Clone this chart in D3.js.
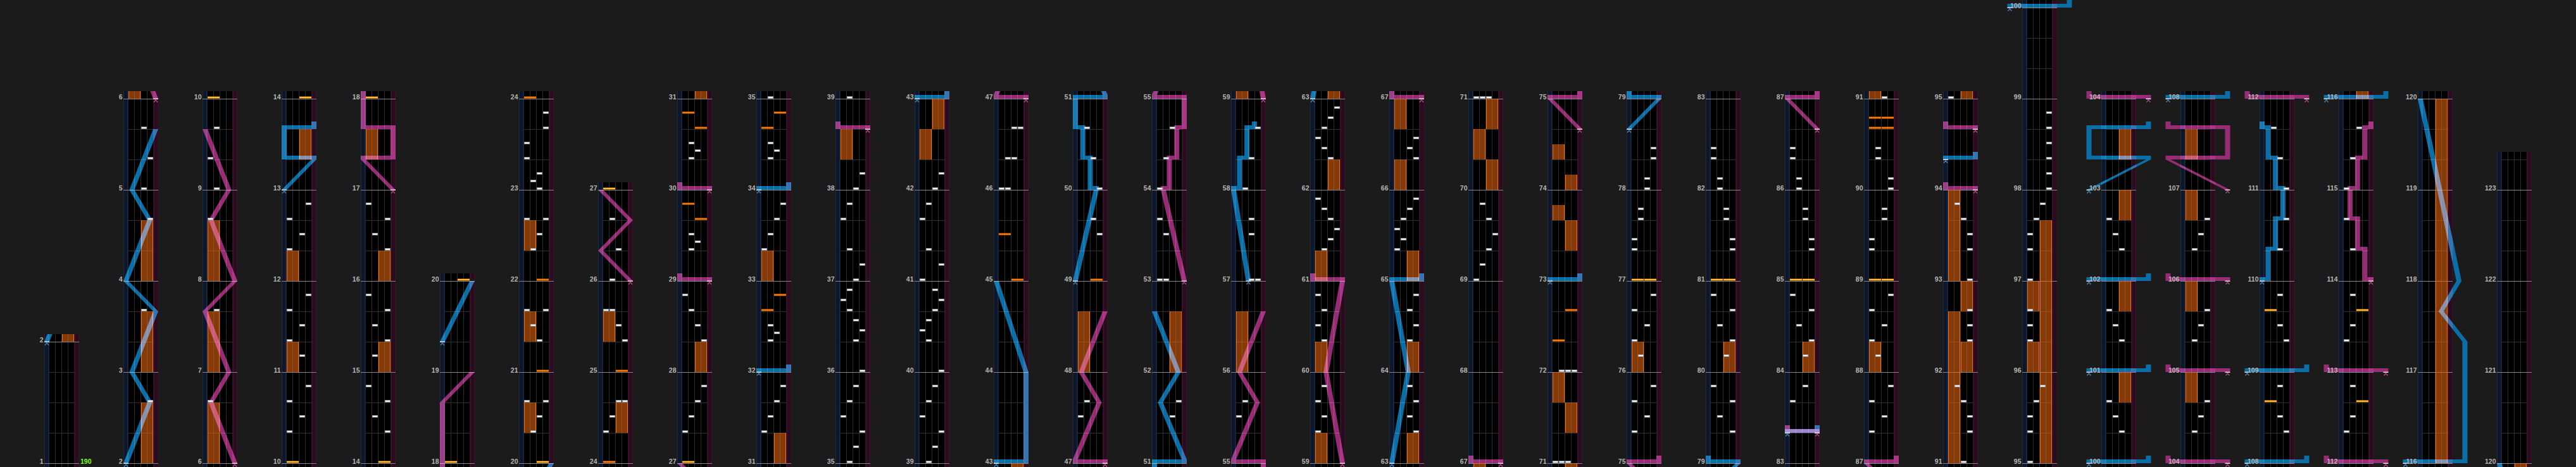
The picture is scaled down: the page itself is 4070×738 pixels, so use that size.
<!DOCTYPE html>
<html><head><meta charset="utf-8">
<script src="https://cdn.jsdelivr.net/npm/d3@7"></script>
<style>
html,body{margin:0;padding:0;background:#1b1b1b;overflow:hidden;}
svg{display:block;}
</style></head><body>
<svg id="chart" width="4070" height="738"></svg>
<script>
// ---------------- DATA ----------------
const columnStarts = [1,2,6,10,14,18,20,24,27,31,35,39,43,47,51,55,59,63,67,71,75,79,83,87,91,95,100,104,108,112,116,120];
const songEnd = [123, 1];
const bpmMarks = [[1, 0, "190"]];

// [measure, beat, lane 0..3]
const btChips = [
 [2,2,3],[3,2,2],[4,2,3],[5,0,2],[5,1,3],[5,2,2],
 [6,2,0],[7,2,1],[8,2,0],[9,0,1],[9,1,0],[9,2,1],
 [10,1,0],[10,1.5,2],[10,2,0],[10,2.5,3],
 [11,0.5,2],[11,1,0],[11,1.5,2],[11,2,0],[11,2.5,3],
 [12,1,0],[12,1.5,2],[12,2,0],[12,2.5,3],
 [14,1,3],[14,1.5,1],[14,2,3],[14,2.5,0],
 [15,0.5,1],[15,1,3],[15,1.5,1],[15,2,3],[15,2.5,0],
 [16,1,3],[16,1.5,1],[16,2,3],[16,2.5,0],
 [20,1,1],[20,1.5,2],[20,2,0],[20,2,3],
 [21,1,2],[21,1.5,1],[21,2,0],[21,2,3],
 [22,1,1],[22,1.5,2],[22,2,0],[22,2,3],
 [23,0,2],[23,0.25,1],[23,0.5,2],[23,1,0],[23,1.5,0],[23,2,3],[23,2.5,3],
 [24,1,0],[24,1.5,1],[24,2,2],[24,2,3],
 [25,1,3],[25,1.5,2],[25,2,0],[25,2,1],
 [26,0,1],[26,1,2],[26,2,1],
 [27,1,0],[27,1.5,1],[27,2,2],[27,2.5,3],
 [28,1,3],[28,1.5,2],[28,2,1],[28,2.5,0],
 [29,1,1],[29,1.25,2],[29,1.5,1],
 [30,1,1],[30,1.25,2],[30,1.5,1],
 [31,1,0],[31,1.5,1],[31,2,2],[31,2.5,3],
 [32,1,1],[32,1.25,2],[32,1.5,1],
 [33,1,0],[33,1.5,1],[33,2,2],[33,2.5,3],
 [34,1,1],[34,1.25,2],[34,1.5,1],
 [35,0,1],[35,0.5,2],[35,1,3],[35,1.5,0],[35,2,1],[35,2.5,2],
 [36,0,3],[36,1,2],[36,1.333,3],[36,1.667,2],[36,2,1],[36,2.333,0],[36,2.667,1],
 [37,0,2],[37,0.5,3],[37,1,1],[37,2,0],[37,2.5,1],
 [38,0,2],[38,0.5,3],
 [39,0,1],[39,0.5,2],[39,1,3],[39,1.5,0],[39,2,1],[39,2.5,2],
 [40,0,3],[40,1,1],[40,1.333,0],[40,1.667,1],[40,2,2],[40,2.333,3],[40,2.667,2],
 [41,0,0],[41,0.5,3],[41,1,1],[41,2,0],[41,2.5,1],
 [42,0,2],[42,0.5,3],
 [46,0,0],[46,0,1],[46,1,1],[46,1,2],[46,2,2],[46,2,3],
 [47,1.5,0],[47,2,1],[49,1.5,3],[49,2,2],[50,0,3],[50,1,2],[50,2,1],
 [51,1.5,2],[51,2,3],[53,0,0],[53,0,1],[53,1.5,1],[53,2,0],[54,0,0],[54,1,1],[54,2,2],
 [55,1.5,0],[55,2,1],[57,0,2],[57,0,3],[57,1.5,2],[57,2,2],[58,0,1],[58,1,2],[58,2,3],
 [59,1,0],[59,1.5,1],[59,2,0],[59,2.5,1],
 [60,1,1],[60,1.5,0],[60,2,1],[60,2.5,0],
 [61,1,1],[61,1.333,2],[61,1.667,3],[61,2,2],[61,2.333,1],[61,2.667,0],
 [62,1,2],[62,1.333,1],[62,1.667,0],[62,2,1],[62,2.333,2],[62,2.667,3],
 [63,1,3],[63,1.5,2],[63,2,3],[63,2.5,2],
 [64,1,2],[64,1.5,3],[64,2,2],[64,2.5,3],
 [65,1,0],[65,1.333,1],[65,1.667,0],[65,2,1],[65,2.333,2],[65,2.667,3],
 [66,1,3],[66,1.333,2],[66,1.667,3],
 [69,0,0],[69,0.5,1],[69,1,2],[69,1.5,3],[69,2,2],[69,2.5,1],
 [71,0,0],[71,0,1],[71,0,2],
 [72,0,1],[72,0,2],[72,0,3],
 [75,1,0],[75,1.5,2],[75,2,0],[75,2.5,3],
 [76,0.5,1],[76,1,0],[76,1.5,2],[76,2,0],[76,2.5,3],
 [77,1,0],[77,1.333,0],[77,2,1],[77,2.333,1],
 [78,0,2],[78,0.333,2],[78,1,3],[78,1.333,3],
 [79,1,3],[79,1.5,1],[79,2,3],[79,2.5,0],
 [80,0.5,2],[80,1,3],[80,1.5,1],[80,2,3],[80,2.5,0],
 [81,1,3],[81,1.333,3],[81,2,2],[81,2.333,2],
 [82,0,1],[82,0.333,1],[82,1,0],[82,1.333,0],
 [83,2,0],[83,2.5,2],
 [84,0.5,2],[84,1,3],[84,1.5,1],[84,2,3],[84,2.5,0],
 [85,1,3],[85,1.333,3],[85,2,2],[85,2.333,2],
 [86,0,1],[86,0.333,1],[86,1,0],[86,1.333,0],
 [87,1,0],[87,1.5,2],[87,2,0],[87,2.5,3],
 [88,0.5,1],[88,1,0],[88,1.5,2],[88,2,0],[88,2.5,3],
 [89,1,0],[89,1.333,0],[89,2,2],[89,2.333,2],
 [90,0,3],[90,0.333,3],[90,1,1],[90,1.333,1],
 [91,0,2],[91,1,3],[91,1.5,3],[91,2,2],[91,2.5,1],
 [92,1,3],[92,1.5,3],[92,2,3],
 [93,0,3],[93,1,3],[93,1.5,3],[93,2,2],[93,2.5,1],
 [95,0,0],[95,1,0],[95,1.5,0],[95,2,1],[95,2.5,2],
 [96,1,0],[96,1.5,0],[96,2,0],
 [97,0,0],[97,1,0],[97,1.5,0],[97,2,1],[97,2.5,2],
 [98,0,3],[98,0.5,3],[98,1,3],[98,1.5,3],[98,2,3],[98,2.5,3],
 [100,1,2],[100,1.5,1],[100,2,0],[101,1,2],[101,1.5,1],[101,2,0],[102,1,2],[102,1.5,1],[102,2,0],
 [104,1,1],[104,1.5,2],[104,2,3],[105,1,1],[105,1.5,2],[105,2,3],[106,1,1],[106,1.5,2],[106,2,3],
 [108,1,3],[108,1.5,2],[108,2.5,2],[109,1,3],[109,1.5,2],[109,2.5,2],
 [110,1,2],[110,2,3],[111,0,3],[111,1,2],[111,2,1],
 [112,1,0],[112,1.5,1],[112,2.5,1],[113,1,0],[113,1.5,1],[113,2.5,1],
 [114,1,1],[114,2,0],[115,0,0],[115,1,1],[115,2,2]
];

// [measure, beat, side 0=L 1=R, kind 0=yellow 1=orange]
const fxChips = [
 [10,0,0,0],[14,0,1,0],[18,0,0,0],[20,0,1,0],[21,0,1,1],[22,0,1,1],[24,0,0,1],[25,0,1,1],[27,0,0,0],
 [29,2,1,1],[29,2.5,0,1],[30,2,1,1],[30,2.5,0,1],
 [32,2,0,1],[32,2.5,1,1],[34,2,0,1],[34,2.5,1,1],
 [45,0,1,1],[45,1.5,0,1],[49,0,1,1],[72,1,0,1],[72,2,1,1],
 [77,0,0,0],[77,0,1,0],[81,0,0,0],[81,0,1,0],[85,0,0,0],[85,0,1,0],[89,0,0,0],[89,0,1,0],
 [90,2,0,1],[90,2,1,1],[90,2.333,0,1],[90,2.333,1,1],
 [108,2,0,0],[109,2,0,0],[112,2,1,0],[113,2,1,0]
];

// [startMeasure, startBeat, endMeasure, endBeat, side]
const fxLongs = [
 [2,0,2,2,1],[3,0,3,2,1],[4,0,4,2,1],
 [6,0,6,2,0],[7,0,7,2,0],[8,0,8,2,0],
 [11,0,11,1,0],[12,0,12,1,0],[13,1,13,2,1],
 [15,0,15,1,1],[16,0,16,1,1],[17,1,17,2,0],
 [20,1,20,2,0],[21,1,21,2,0],[22,1,22,2,0],
 [24,1,24,2,1],[25,1,25,2,0],
 [28,0,28,1,1],[31,0,31,1,1],[33,0,33,1,0],
 [38,1,38,2,0],[42,1,42,2,0],[42,2,43,0,1],
 [48,0,48,2,0],[52,0,52,2,1],[56,0,56,2,0],
 [59,0,59,1,0],[60,0,60,1,0],[61,0,61,1,0],[62,0,62,1,1],
 [63,0,63,1,1],[64,0,64,1,1],[65,0,65,1,1],[66,0,66,1,0],[66,2,67,0,0],
 [70,0,70,1,1],[70,1,70,2,0],[70,2,71,0,1],
 [71,1,71,2,1],[71,2,72,0,0],
 [73,1,73,2,1],[73,2,73,2.5,0],[74,0,74,0.5,1],[74,1,74,1.5,0],
 [76,0,76,1,0],[80,0,80,1,1],[84,0,84,1,1],[88,0,88,1,0],
 [91,0,92,2,0],[92,0,92,1,1],[92,2,93,0,1],[93,0,94,0,0],
 [95,0,97,2,1],[96,0,96,1,0],[96,2,97,0,0],
 [100,2,101,0,1],[101,2,102,0,1],[102,2,103,0,1],[103,1,103,2,1],
 [104,2,105,0,0],[105,2,106,0,0],[106,2,107,0,0],[107,1,107,2,0],
 [116,0,120,0,1]
];

// laser sections: [measure, beat, position] (same beat twice = slam)
const leftLaser = [
 [[2,0,0],[2,2,0.8],[3,0,0.2],[3,2,1],[4,0,0],[4,2,0.8],[5,0,0.2],[5,2,1]],
 [[13,0,0],[13,1,1],[13,1,0],[13,2,0],[13,2,1]],
 [[19,1,0],[20,0,1]],
 [[32,0,0],[32,0,1]],
 [[34,0,0],[34,0,1]],
 [[43,0,0],[43,0,1],[44,0,1],[45,0,0]],
 [[49,0,0],[50,0,0.7],[50,0,0.5],[50,1,0.5],[50,1,0.25],[50,2,0.25],[50,2,0],[51,0,0],[51,0,1],[51,2,0.2],[52,0,0.8],[52,2,0]],
 [[57,0,0.5],[58,0,0],[58,0,0.2],[58,1,0.2],[58,1,0.45],[58,2,0.45],[58,2,0.7]],
 [[63,0,0],[64,0,0.55],[65,0,0],[65,0,1]],
 [[73,0,0],[73,0,1]],
 [[78,2,0],[79,0,1],[79,0,0]],
 [[83,1,0],[83,1,1]],
 [[94,1,0],[94,1,1]],
 [[100,0,-0.5],[100,0,1.5]],
 [[101,0,-0.5],[101,0,1.5]],
 [[102,0,-0.5],[102,0,1.5]],
 [[103,0,-0.5],[103,1,1.5],[103,1,-0.5],[103,2,-0.5],[103,2,1.5]],
 [[108,0,-0.5],[108,0,1.5]],
 [[109,0,-0.5],[109,0,1.5]],
 [[110,0,0],[110,0,0.2],[110,1,0.2],[110,1,0.45],[110,2,0.45],[110,2,0.7],[111,0,0.7],[111,0,0.45],[111,1,0.45],[111,1,0.2],[111,2,0.2],[111,2,0]],
 [[116,0,-0.5],[116,0,1.5],[117,1,1.5],[117,2,0.7],[118,0,1.3],[120,0,0]]
];
const rightLaser = [
 [[6,0,1],[6,2,0.2],[7,0,0.8],[7,2,0],[8,0,1],[8,2,0.2],[9,0,0.8],[9,2,0]],
 [[17,0,1],[17,1,0],[17,1,1],[17,2,1],[17,2,0],[18,2,0],[19,0,1]],
 [[26,0,1],[26,1,0],[26,2,1],[27,0,0]],
 [[29,0,1],[29,0,0]],
 [[30,0,1],[30,0,0]],
 [[38,2,1],[38,2,0]],
 [[47,0,1],[47,0,0],[47,2,0.8],[48,0,0.2],[48,2,1]],
 [[53,0,1],[54,0,0.3],[54,0,0.5],[54,1,0.5],[54,1,0.75],[54,2,0.75],[54,2,1],[55,0,1],[55,0,0],[55,2,0.8],[56,0,0.2],[56,2,1]],
 [[59,0,1],[60,0,0.45],[61,0,1],[61,0,0]],
 [[67,0,1],[67,0,0]],
 [[74,2,1],[75,0,0],[75,0,1]],
 [[83,1,1],[83,1,0]],
 [[86,2,1],[87,0,0],[87,0,1]],
 [[94,0,1],[94,0,0]],
 [[94,2,1],[94,2,0]],
 [[104,0,1.5],[104,0,-0.5]],
 [[105,0,1.5],[105,0,-0.5]],
 [[106,0,1.5],[106,0,-0.5]],
 [[107,0,1.5],[107,1,-0.5],[107,1,1.5],[107,2,1.5],[107,2,-0.5]],
 [[112,0,1.5],[112,0,-0.5]],
 [[113,0,1.5],[113,0,-0.5]],
 [[114,0,1],[114,0,0.8],[114,1,0.8],[114,1,0.55],[114,2,0.55],[114,2,0.3],[115,0,0.3],[115,0,0.55],[115,1,0.55],[115,1,0.8],[115,2,0.8],[115,2,1]]
];

// ---------------- RENDER ----------------
const svg = d3.select('#chart');
svg.append('rect').attr('width',4070).attr('height',738).attr('fill','#1b1b1b');
const defs = svg.append('defs');
const grad = defs.append('linearGradient').attr('id','fxY').attr('x1',0).attr('y1',0).attr('x2',0).attr('y2',1);
grad.append('stop').attr('offset','0%').attr('stop-color','#ff9000');
grad.append('stop').attr('offset','50%').attr('stop-color','#ffe24a');
grad.append('stop').attr('offset','100%').attr('stop-color','#ff8400');

const beatOf = (m,b) => (m<=1 ? 0 : 4 + 3*(m-2)) + b;
const measureLen = m => m===1 ? 4 : 3;
const BEAT_PX = 48, BASE_Y = 732, H = 738;
const colX = d3.scaleLinear().domain([0,1]).range([70,195]);
const laneX = d3.scaleLinear().domain([0,4]).range([7.5,47.5]);
const laserX = d3.scaleLinear().domain([0,1]).range([4,51]);
const endBeat = beatOf(songEnd[0], songEnd[1]);
const lastMeasure = songEnd[0];

const BLUE = '#0c6ea6', PINK = '#962c74';

function drawLaser(layer, sections, y, lo, hi) {
  sections.forEach(sec => {
    const pts = sec.map(p => ({b: beatOf(p[0],p[1]), v: p[2]}));
    if (pts[pts.length-1].b < lo || pts[0].b > hi) return;
    let afterSlam = false;
    for (let k=0; k<pts.length-1; k++) {
      const a = pts[k], c = pts[k+1];
      const xa = laserX(a.v), xc = laserX(c.v);
      if (a.b === c.b) {
        layer.append('rect').attr('x', Math.min(xa,xc)-4).attr('y', y(a.b)-6)
          .attr('width', Math.abs(xc-xa)+8).attr('height', 6);
        afterSlam = true;
      } else {
        const ya = y(a.b) - (afterSlam ? 6 : 0), yc = y(c.b);
        layer.append('path').attr('d', `M${xa-4},${ya}L${xa+4},${ya}L${xc+4},${yc}L${xc-4},${yc}Z`);
        afterSlam = false;
      }
    }
    if (afterSlam) {
      const l = pts[pts.length-1], xl = laserX(l.v);
      layer.append('rect').attr('x', xl-4).attr('y', y(l.b)-12).attr('width', 8).attr('height', 6);
    }
  });
}
function drawStarts(layer, sections, y, lo, hi, col) {
  sections.forEach(sec => {
    const b = beatOf(sec[0][0], sec[0][1]);
    if (b < lo || b > hi) return;
    const x = laserX(sec[0][2]), yy = y(b);
    layer.append('rect').attr('x', x-4).attr('y', yy-0.5).attr('width', 8).attr('height', 1.5).attr('fill', '#e6e6e6');
    layer.append('path').attr('d', `M${x-3},${yy+5.5}L${x},${yy+2}L${x+3},${yy+5.5}`)
      .attr('fill','none').attr('stroke', col).attr('stroke-width', 1.2);
  });
}

columnStarts.forEach((m0, i) => {
  const x0 = colX(i);
  const isLast = i === columnStarts.length-1;
  const mEnd = isLast ? lastMeasure : columnStarts[i+1];
  const sB = beatOf(m0, 0);
  const eB = isLast ? endBeat : beatOf(mEnd, 0);
  const y = d3.scaleLinear().domain([sB, sB+1]).range([BASE_Y, BASE_Y-BEAT_PX]);
  const top = Math.max(0, y(eB + 0.25));
  const lo = sB - 1, hi = eB + 1;

  defs.append('clipPath').attr('id', 'c'+i).append('rect')
    .attr('x', -45).attr('y', top).attr('width', 145).attr('height', H-top);
  const g = svg.append('g').attr('transform', `translate(${x0},0)`);
  const cg = g.append('g').attr('clip-path', `url(#c${i})`);

  // lane background
  cg.append('rect').attr('x',0).attr('y',top).attr('width',55).attr('height',H-top).attr('fill','#000');
  cg.append('rect').attr('x',0).attr('y',top).attr('width',7.5).attr('height',H-top).attr('fill','#0e172a');
  cg.append('rect').attr('x',47.5).attr('y',top).attr('width',7.5).attr('height',H-top).attr('fill','#290c1e');
  [[0.5,'#1a2a42'],[7,'#253a56'],[48,'#4c1b3b'],[54.5,'#3a1129']].forEach(d => {
    cg.append('line').attr('x1',d[0]).attr('x2',d[0]).attr('y1',top).attr('y2',H).attr('stroke',d[1]).attr('stroke-width',1);
  });
  [17.5,27.5,37.5].forEach(x => {
    cg.append('line').attr('x1',x).attr('x2',x).attr('y1',top).attr('y2',H).attr('stroke','#2e2e2e').attr('stroke-width',1);
  });
  // beat and measure lines
  for (let m = Math.max(1, m0-1); m <= mEnd; m++) {
    for (let b = 1; b < measureLen(m); b++) {
      const yy = Math.round(y(beatOf(m,b))) + 0.5;
      cg.append('line').attr('x1',7.5).attr('x2',47.5).attr('y1',yy).attr('y2',yy).attr('stroke','#303030');
    }
  }
  for (let m = m0; m <= mEnd; m++) {
    const yy = Math.round(y(beatOf(m,0))) + 0.5;
    cg.append('line').attr('x1',0).attr('x2',55).attr('y1',yy).attr('y2',yy).attr('stroke','#858585');
  }

  // FX long notes
  fxLongs.forEach(f => {
    const b1 = beatOf(f[0],f[1]), b2 = beatOf(f[2],f[3]);
    if (b2 < lo || b1 > hi) return;
    const x = laneX(f[4]*2) + 0.5, y1 = y(b1), y2 = y(b2);
    cg.append('rect').attr('x',x).attr('y',y2).attr('width',19).attr('height',y1-y2).attr('fill','rgba(236,106,16,0.56)');
    [x+0.5, x+18.5].forEach(lx => cg.append('line').attr('x1',lx).attr('x2',lx).attr('y1',y2).attr('y2',y1).attr('stroke','#ff6e0c').attr('stroke-width',1));
  });

  // lasers
  const lg = cg.append('g').attr('fill', BLUE).style('mix-blend-mode','screen');
  drawLaser(lg, leftLaser, y, lo, hi);
  const rg = cg.append('g').attr('fill', PINK).style('mix-blend-mode','screen');
  drawLaser(rg, rightLaser, y, lo, hi);

  // chips
  fxChips.forEach(f => {
    const b = beatOf(f[0],f[1]);
    if (b < lo || b > hi) return;
    cg.append('rect').attr('x', laneX(f[2]*2)+0.5).attr('y', y(b)-3.5).attr('width',19).attr('height',3)
      .attr('fill', f[3]===0 ? 'url(#fxY)' : '#ff7a00');
  });
  btChips.forEach(c => {
    const b = beatOf(c[0],c[1]);
    if (b < lo || b > hi) return;
    cg.append('rect').attr('x', laneX(c[2])+0.75).attr('y', y(b)-3.5).attr('width',8.5).attr('height',3)
      .attr('fill','#f4f4f4').attr('stroke','#8894a0').attr('stroke-width',0.6);
  });

  drawStarts(cg, leftLaser, y, lo, hi, '#3d8cc4');
  drawStarts(cg, rightLaser, y, lo, hi, '#c0488e');

  // measure labels
  for (let m = m0; m <= mEnd; m++) {
    g.append('text').attr('x', -1.5).attr('y', y(beatOf(m,0)) + 0.5)
      .attr('text-anchor','end').attr('font-family','"Liberation Sans", Arial, sans-serif')
      .attr('font-weight','bold').attr('font-size','10.5px').attr('fill','#b4b4b4').text(m);
  }
  bpmMarks.forEach(bm => {
    const b = beatOf(bm[0], bm[1]);
    if (b < sB || b >= eB) return;
    g.append('text').attr('x', 57).attr('y', y(b) + 1)
      .attr('font-family','"Liberation Sans", Arial, sans-serif').attr('font-weight','bold')
      .attr('font-size','10.5px').attr('fill','#7dff14').text(bm[2]);
  });
});
</script>
</body></html>
